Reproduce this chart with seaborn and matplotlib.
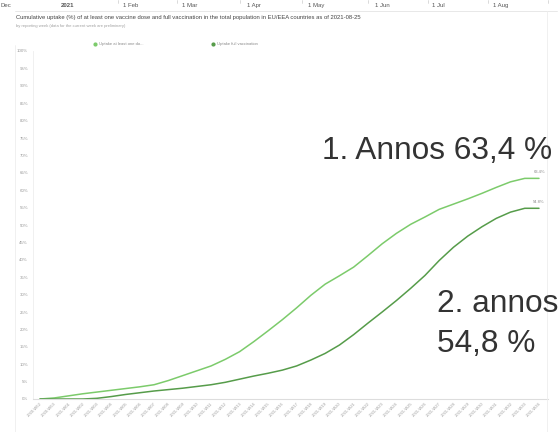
"""
Cumulative vaccine uptake in EU/EEA - recreated chart
"""

import pandas as pd
import matplotlib.pyplot as plt
import seaborn as sns
from matplotlib.lines import Line2D

# Data (percent of total population, by reporting week)
weeks = [
    '2020-W52', '2020-W53', '2021-W01', '2021-W02', '2021-W03', '2021-W04',
    '2021-W05', '2021-W06', '2021-W07', '2021-W08', '2021-W09', '2021-W10',
    '2021-W11', '2021-W12', '2021-W13', '2021-W14', '2021-W15', '2021-W16',
    '2021-W17', '2021-W18', '2021-W19', '2021-W20', '2021-W21', '2021-W22',
    '2021-W23', '2021-W24', '2021-W25', '2021-W26', '2021-W27', '2021-W28',
    '2021-W29', '2021-W30', '2021-W31', '2021-W32', '2021-W33', '2021-W34',
]
first_dose = [
    0.0, 0.3, 0.9, 1.5, 2.0, 2.5, 3.0, 3.5, 4.1, 5.3, 6.7, 8.1,
    9.5, 11.4, 13.6, 16.5, 19.6, 22.8, 26.2, 29.8, 33.0, 35.4, 37.9, 41.2,
    44.6, 47.6, 50.2, 52.3, 54.5, 56.0, 57.5, 59.1, 60.8, 62.4, 63.4, 63.4,
]
full_vacc = [
    0.0, 0.0, 0.0, 0.0, 0.2, 0.7, 1.3, 1.8, 2.3, 2.7, 3.1, 3.6,
    4.1, 4.8, 5.7, 6.6, 7.4, 8.3, 9.5, 11.2, 13.1, 15.5, 18.5, 21.8,
    25.0, 28.3, 31.8, 35.5, 39.8, 43.6, 46.8, 49.5, 51.9, 53.7, 54.8, 54.8,
]
series_names = ['Uptake at least one dose', 'Uptake full vaccination']
legend_labels = ['Uptake at least one do...', 'Uptake full vaccination']
y_ticks = list(range(0, 101, 5))
months = ['Dec', '2021', '1 Feb', '1 Mar', '1 Apr', '1 May', '1 Jun', '1 Jul', '1 Aug']

TITLE = ('Cumulative uptake (%) of at least one vaccine dose and full vaccination '
         'in the total population in EU/EEA countries as of 2021-08-25')
SUBTITLE = 'by reporting week (data for the current week are preliminary)'

LIGHT = '#7ccb6b'
DARK = '#569c4a'

W, H = 559, 432


def fx(x):
    return x / W


def fy(y):
    return 1 - y / H


sns.set_style('white')
plt.rcParams['font.family'] = ['Liberation Sans', 'DejaVu Sans']

fig = plt.figure(figsize=(W / 100, H / 100), dpi=100)
ax = fig.add_axes([fx(33), fy(399), (548 - 33) / W, (399 - 51) / H])

df = pd.DataFrame({'week': weeks, series_names[0]: first_dose, series_names[1]: full_vacc})
df['pos'] = range(len(df))
long_df = df.melt(id_vars=['week', 'pos'], var_name='series', value_name='pct')

sns.lineplot(data=long_df, x='pos', y='pct', hue='series', hue_order=series_names,
             palette=[LIGHT, DARK], linewidth=1.1, legend=False, ax=ax)

step = 499 / (len(weeks) - 1)
ax.set_xlim(-7 / step, len(weeks) - 1 + 9 / step)
ax.set_ylim(0, 100)
ax.set_xlabel('')
ax.set_ylabel('')

ax.set_yticks(y_ticks)
ax.set_yticklabels([f'{v}%' for v in y_ticks], fontsize=3.2, color='#9a9a9a')
ax.tick_params(axis='y', length=2, width=0.5, color='#dddddd', pad=1.5)

ax.set_xticks(df['pos'])
ax.set_xticklabels(weeks, rotation=45, ha='right', rotation_mode='anchor',
                   fontsize=3.0, color='#9a9a9a')
ax.tick_params(axis='x', length=0, pad=2)

for side in ['top', 'right']:
    ax.spines[side].set_visible(False)
ax.spines['left'].set_color('#eeeeee')
ax.spines['left'].set_linewidth(0.6)
ax.spines['bottom'].set_color('#dddddd')
ax.spines['bottom'].set_linewidth(0.8)

# end-of-line value labels
last = len(weeks) - 1
for vals in [first_dose, full_vacc]:
    ax.text(last, vals[-1] + 1.3, f'{vals[-1]}%', ha='center', va='bottom',
            fontsize=3.0, color='#8a8a8a')

# legend
for x0, col, lab in zip([95, 213], [LIGHT, DARK], legend_labels):
    fig.add_artist(Line2D([fx(x0)], [fy(44)], marker='o', markersize=2,
                          color=col, linestyle=''))
    fig.text(fx(x0 + 4), fy(44), lab, fontsize=3.0, color='#8a8a8a', va='center')

# title block
fig.text(fx(16), fy(17), TITLE, fontsize=4.2, color='#444444', va='center')
fig.text(fx(16), fy(26), SUBTITLE, fontsize=3.0, color='#a0a0a0', va='center')

# timeline strip on top
month_x = [6, 68, 131, 190, 254, 316, 382, 438, 501]
for mx, m in zip(month_x, months):
    fig.text(fx(mx), fy(7), m, fontsize=4.3, color='#555555', ha='center', va='baseline',
             fontweight='bold' if m == '2021' else 'normal')
for sx in [118, 177, 240, 302, 368, 428, 488, 548]:
    fig.add_artist(Line2D([fx(sx)] * 2, [fy(0), fy(3)], color='#cccccc', lw=0.5))

# container borders
fig.add_artist(Line2D([fx(15), fx(557)], [fy(11)] * 2, color='#e4e4e4', lw=0.6))
fig.add_artist(Line2D([fx(15)] * 2, [fy(45), 0], color='#eeeeee', lw=0.6))
fig.add_artist(Line2D([fx(547)] * 2, [fy(11), 0], color='#eeeeee', lw=0.6))

# big annotations
fig.text(fx(322), fy(159), '1. Annos 63,4 %', fontsize=22.8, color='#333333', va='baseline')
fig.text(fx(437), fy(312), '2. annos', fontsize=22.8, color='#333333', va='baseline')
fig.text(fx(437), fy(352), '54,8 %', fontsize=22.8, color='#333333', va='baseline')

fig.savefig('out.png', dpi=100)
plt.close(fig)
